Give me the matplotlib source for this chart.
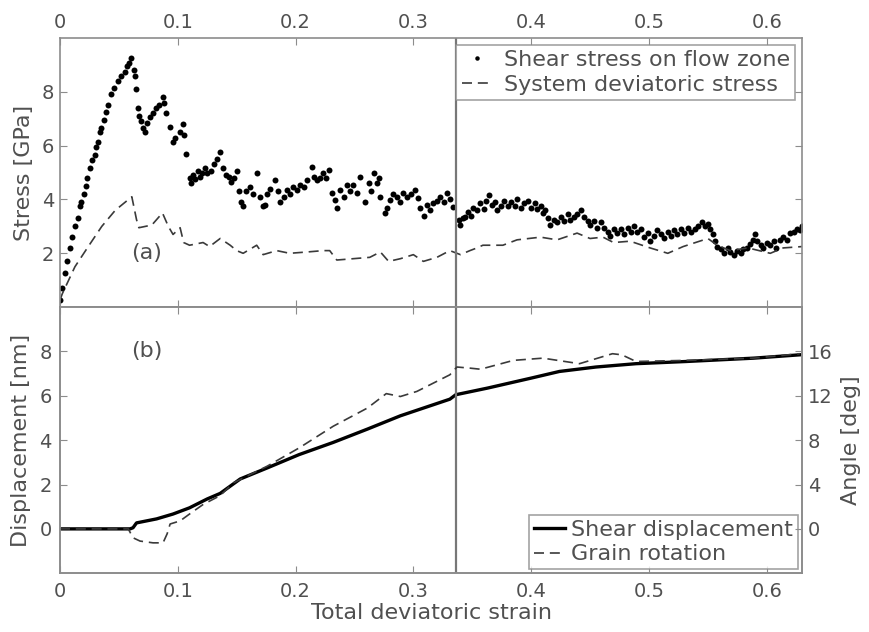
import matplotlib
matplotlib.use("Agg")
import matplotlib.pyplot as plt

# shear stress on flow zone (dots)
shear_x = [0.000, 0.002, 0.004, 0.006, 0.0085, 0.0105, 0.0127, 0.0153, 0.017, 0.018, 0.020, 0.0224,
           0.023, 0.0252, 0.027, 0.0295, 0.031, 0.0323, 0.034, 0.0351, 0.037, 0.0394, 0.041, 0.0436,
           0.046, 0.0493, 0.052, 0.055, 0.057, 0.059, 0.0606,
           0.0625, 0.0634, 0.0648, 0.0663, 0.067, 0.069, 0.0705, 0.072, 0.074, 0.0762, 0.079, 0.0818,
           0.084, 0.0875, 0.0885, 0.0903, 0.0932, 0.096, 0.098, 0.1017, 0.1045, 0.1055, 0.1073, 0.1102,
           0.111, 0.113, 0.115, 0.1172, 0.119, 0.121, 0.123, 0.125, 0.1286, 0.131, 0.1335, 0.1357,
           0.1385, 0.141, 0.1435, 0.1456, 0.148, 0.150, 0.152, 0.154, 0.1555, 0.1583, 0.1614, 0.164,
           0.167, 0.170, 0.172, 0.174, 0.176, 0.1784, 0.1827, 0.185, 0.187, 0.190, 0.1926, 0.195,
           0.198, 0.201, 0.204, 0.207, 0.2096, 0.2138, 0.216, 0.218, 0.221, 0.2237, 0.226, 0.228,
           0.2308, 0.2336, 0.2355, 0.238, 0.241, 0.2436, 0.246, 0.249, 0.252, 0.2549, 0.2591, 0.262,
           0.264, 0.2662, 0.269, 0.2705, 0.2719, 0.276, 0.278, 0.2804, 0.283, 0.286, 0.289, 0.2915,
           0.2945, 0.298, 0.3016, 0.304, 0.306, 0.309, 0.3116, 0.3145, 0.317, 0.320, 0.323, 0.326,
           0.3285, 0.331, 0.334, 0.3384, 0.340, 0.342, 0.344, 0.346, 0.349, 0.351, 0.354, 0.357,
           0.360, 0.362, 0.364, 0.367, 0.369, 0.371, 0.374, 0.377, 0.380, 0.383, 0.386, 0.388,
           0.391, 0.394, 0.397, 0.400, 0.403, 0.405, 0.408, 0.410, 0.412, 0.414, 0.416, 0.419,
           0.422, 0.425, 0.428, 0.431, 0.433, 0.436, 0.439, 0.442, 0.445, 0.448, 0.450, 0.453,
           0.456, 0.459, 0.462, 0.465, 0.467, 0.470, 0.473, 0.476, 0.479, 0.482, 0.485, 0.487,
           0.490, 0.493, 0.496, 0.499, 0.501, 0.504, 0.507, 0.510, 0.513, 0.516, 0.519, 0.521,
           0.524, 0.527, 0.530, 0.533, 0.536, 0.539, 0.542, 0.545, 0.548, 0.550, 0.552, 0.554,
           0.556, 0.558, 0.561, 0.564, 0.567, 0.569, 0.572, 0.575, 0.578, 0.580, 0.583, 0.586,
           0.588, 0.590, 0.592, 0.595, 0.597, 0.600, 0.603, 0.606, 0.608, 0.611, 0.614, 0.617,
           0.620, 0.623, 0.626, 0.628, 0.630]
shear_y = [0.26, 0.7, 1.25, 1.7, 2.2, 2.6, 3.0, 3.3, 3.75, 3.9, 4.2, 4.5,
           4.8, 5.15, 5.45, 5.65, 5.95, 6.15, 6.5, 6.65, 6.95, 7.25, 7.5, 7.9,
           8.15, 8.4, 8.6, 8.75, 8.95, 9.05, 9.25,
           8.8, 8.6, 8.1, 7.4, 7.1, 6.9, 6.65, 6.5, 6.85, 7.05, 7.2, 7.4,
           7.5, 7.8, 7.6, 7.2, 6.7, 6.15, 6.3, 6.5, 6.8, 6.4, 5.7, 4.8,
           4.6, 4.9, 4.75, 5.05, 4.85, 5.0, 5.15, 5.0, 5.05, 5.3, 5.5, 5.75,
           5.15, 4.9, 4.85, 4.65, 4.8, 5.05, 4.3, 3.9, 3.75, 4.3, 4.47, 4.2,
           4.97, 4.1, 3.75, 3.8, 4.2, 4.4, 4.72, 4.3, 3.92, 4.1, 4.35, 4.2,
           4.47, 4.35, 4.53, 4.45, 4.72, 5.22, 4.85, 4.72, 4.8, 4.97, 4.8, 5.09,
           4.23, 3.98, 3.7, 4.35, 4.1, 4.53, 4.3, 4.53, 4.25, 4.84, 3.92, 4.6,
           4.3, 4.97, 4.6, 4.8, 4.1, 3.48, 3.7, 3.98, 4.2, 4.1, 3.9, 4.25,
           4.1, 4.2, 4.35, 4.05, 3.67, 3.4, 3.8, 3.6, 3.85, 3.95, 4.1, 3.9,
           4.23, 4.0, 3.73, 3.23, 3.05, 3.3, 3.36, 3.55, 3.4, 3.7, 3.6, 3.85,
           3.65, 3.95, 4.15, 3.8, 3.9, 3.6, 3.75, 3.95, 3.75, 3.9, 3.75, 4.0,
           3.7, 3.85, 3.95, 3.7, 3.85, 3.65, 3.75, 3.5, 3.6, 3.3, 3.05, 3.25,
           3.15, 3.35, 3.2, 3.45, 3.25, 3.35, 3.45, 3.6, 3.35, 3.2, 3.05, 3.2,
           2.95, 3.15, 2.95, 2.8, 2.65, 2.9, 2.75, 2.9, 2.7, 2.95, 2.8, 3.0,
           2.8, 2.9, 2.6, 2.75, 2.45, 2.65, 2.85, 2.7, 2.55, 2.8, 2.65, 2.85,
           2.7, 2.9, 2.75, 2.95, 2.8, 2.9, 3.0, 3.15, 3.0, 3.1, 2.9, 2.7,
           2.45, 2.25, 2.15, 2.0, 2.2, 2.05, 1.95, 2.1, 2.0, 2.15, 2.2, 2.35,
           2.5, 2.7, 2.45, 2.3, 2.2, 2.4, 2.3, 2.45, 2.2, 2.5, 2.6, 2.5,
           2.75, 2.8, 2.9, 2.85, 3.0]

# system deviatoric stress (dashed)
dev_x = [0.000, 0.002, 0.0127, 0.024, 0.0355, 0.047, 0.061, 0.065, 0.067, 0.078, 0.087, 0.092,
         0.096, 0.102, 0.105, 0.110, 0.1215, 0.127, 0.136, 0.1445, 0.150, 0.1555, 0.167, 0.1725,
         0.184, 0.195, 0.210, 0.2235, 0.229, 0.235, 0.249, 0.263, 0.272, 0.279, 0.289, 0.300,
         0.3085, 0.320, 0.331, 0.340, 0.348, 0.354, 0.359, 0.376, 0.388, 0.408, 0.422, 0.439,
         0.450, 0.461, 0.470, 0.484, 0.501, 0.516, 0.529, 0.550, 0.558, 0.569, 0.584, 0.603,
         0.614, 0.630]
dev_y = [0.26, 0.5, 1.5, 2.25, 3.0, 3.6, 4.1, 3.25, 2.95, 3.05, 3.5, 3.0,
         2.7, 2.95, 2.4, 2.3, 2.4, 2.25, 2.55, 2.3, 2.1, 2.0, 2.3, 1.95,
         2.1, 2.0, 2.05, 2.1, 2.1, 1.75, 1.8, 1.85, 2.05, 1.7, 1.8, 1.95,
         1.7, 1.85, 2.1, 1.95, 2.1, 2.2, 2.3, 2.3, 2.5, 2.6, 2.5, 2.75,
         2.55, 2.6, 2.4, 2.45, 2.2, 2.0, 2.25, 2.55, 2.3, 2.1, 2.2, 2.0,
         2.2, 2.25]

# shear displacement [nm]
disp_x = [0.0, 0.0595, 0.062, 0.065, 0.082, 0.096, 0.110, 0.125, 0.136, 0.153, 0.176, 0.203,
          0.232, 0.261, 0.289, 0.317, 0.331, 0.336, 0.363, 0.400, 0.424, 0.455, 0.489, 0.532,
          0.589, 0.628]
disp_y = [0.0, 0.0, 0.05, 0.27, 0.45, 0.67, 0.95, 1.35, 1.6, 2.25, 2.75, 3.35,
          3.9, 4.5, 5.1, 5.6, 5.85, 6.05, 6.35, 6.8, 7.1, 7.3, 7.45, 7.55,
          7.7, 7.85]

# grain rotation [deg]
rot_x = [0.0, 0.058, 0.062, 0.068, 0.079, 0.0875, 0.091, 0.0935, 0.102, 0.110, 0.1215, 0.136,
         0.147, 0.176, 0.203, 0.232, 0.261, 0.277, 0.289, 0.303, 0.331, 0.337, 0.348, 0.357,
         0.385, 0.410, 0.441, 0.469, 0.477, 0.489, 0.532, 0.589, 0.628]
rot_y = [0.0, 0.0, -0.8, -1.1, -1.26, -1.26, -0.44, 0.44, 0.72, 1.34, 2.2, 3.0,
         4.14, 5.66, 7.3, 9.26, 10.9, 12.2, 11.94, 12.4, 13.9, 14.6, 14.5, 14.4,
         15.2, 15.4, 14.9, 15.8, 15.7, 15.1, 15.2, 15.4, 15.8]

strain_mark = 0.336
xticks = [0, 0.1, 0.2, 0.3, 0.4, 0.5, 0.6]
xticklabels = ["0", "0.1", "0.2", "0.3", "0.4", "0.5", "0.6"]

txt = "#505050"
spine = "#8c8c8c"
plt.rcParams["font.family"] = ["DejaVu Sans"]
plt.rcParams["text.color"] = txt
plt.rcParams["axes.labelcolor"] = txt
plt.rcParams["xtick.color"] = spine
plt.rcParams["ytick.color"] = spine
plt.rcParams["xtick.labelcolor"] = txt
plt.rcParams["ytick.labelcolor"] = txt

fig = plt.figure(figsize=(8.69, 6.32), dpi=100)
ax1 = fig.add_axes([0.069, 0.514, 0.854, 0.426])
ax2 = fig.add_axes([0.069, 0.093, 0.854, 0.421])

# (a) stress panel
ax1.plot(shear_x, shear_y, "o", color="black", ms=4.3, mew=0, label="Shear stress on flow zone")
ax1.plot(dev_x, dev_y, "--", color="#3a3a3a", lw=1.2, dashes=(6, 3.5), label="System deviatoric stress")
ax1.axvline(strain_mark, color="#777777", lw=1.6)
ax1.set_xlim(0, 0.63)
ax1.set_ylim(0, 10)
ax1.set_yticks([2, 4, 6, 8])
ax1.set_xticks(xticks)
ax1.set_xticklabels(xticklabels)
ax1.tick_params(direction="in", top=True, right=True, labeltop=True, labelbottom=False,
                labelsize=14, length=5, pad=4)
ax1.set_ylabel("Stress [GPa]", fontsize=16, labelpad=6)
ax1.text(0.06, 2.0, "(a)", fontsize=16, ha="left", va="center")
leg1 = ax1.legend(loc="upper right", fontsize=16, handlelength=1.4, handletextpad=0.5,
                  borderpad=0.25, labelspacing=0.2, borderaxespad=0.3, fancybox=False,
                  markerscale=0.75)
leg1.get_frame().set_edgecolor(spine)
leg1.get_frame().set_linewidth(1.2)

# (b) displacement / rotation panel
ax3 = ax2.twinx()
l1, = ax2.plot(disp_x, disp_y, "-", color="black", lw=2.4, label="Shear displacement")
l2, = ax3.plot(rot_x, rot_y, "--", color="#3a3a3a", lw=1.2, dashes=(6, 3.5), label="Grain rotation")
ax2.axvline(strain_mark, color="#777777", lw=1.6)
ax2.set_xlim(0, 0.63)
ax2.set_ylim(-2, 10)
ax3.set_ylim(-4, 20)
ax2.set_yticks([0, 2, 4, 6, 8])
ax3.set_yticks([0, 4, 8, 12, 16])
ax2.set_xticks(xticks)
ax2.set_xticklabels(xticklabels)
ax2.tick_params(direction="in", top=True, labelsize=14, length=5, pad=6)
ax3.tick_params(direction="in", labelsize=14, length=5, pad=4)
ax2.set_ylabel("Displacement [nm]", fontsize=16, labelpad=6)
ax3.set_ylabel("Angle [deg]", fontsize=16, labelpad=6)
ax2.set_xlabel("Total deviatoric strain", fontsize=16, labelpad=2)
ax2.text(0.06, 8.0, "(b)", fontsize=16, ha="left", va="center")
leg2 = ax2.legend([l1, l2], ["Shear displacement", "Grain rotation"], loc="lower right",
                  fontsize=16, handlelength=1.4, handletextpad=0.3, borderpad=0.2,
                  labelspacing=0.2, borderaxespad=0.2, fancybox=False)
leg2.get_frame().set_edgecolor(spine)
leg2.get_frame().set_linewidth(1.2)

for ax in (ax1, ax2, ax3):
    for s in ax.spines.values():
        s.set_color(spine)
        s.set_linewidth(1.2)

fig.savefig("out.png", dpi=100)
